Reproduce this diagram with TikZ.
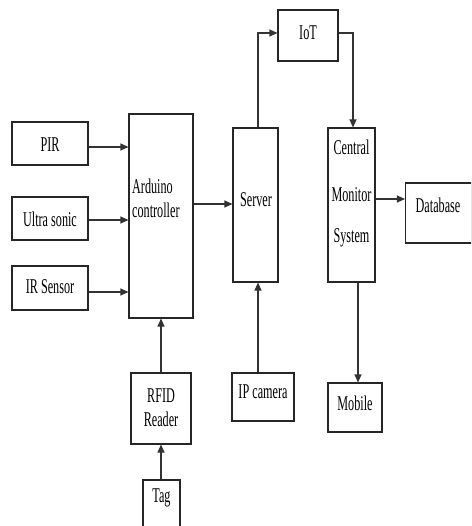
\documentclass[tikz,border=0pt]{standalone}
\usepackage{fontspec}
\setmainfont[FakeStretch=0.58]{Liberation Serif}
\usetikzlibrary{arrows.meta}
\begin{document}
\begin{tikzpicture}[x=1pt,y=-1pt,
  box/.style={draw=black!85,line width=1.1pt,minimum width=#1,inner sep=0pt},
  lbl/.style={font=\fontsize{21}{24}\selectfont,inner sep=0pt},
  arr/.style={draw=black!80,line width=1.1pt,-{Triangle[length=8pt,width=7pt]}}]
\useasboundingbox (0,0) rectangle (471,526);
\clip (0,0) rectangle (471,526);
% boxes
\node[box=76pt,minimum height=43pt] (pir) at (50,143.5) {};
\node[box=76pt,minimum height=43pt] (ultra) at (50,218.5) {};
\node[box=76pt,minimum height=44pt] (ir) at (50,288) {};
\node[box=64pt,minimum height=204pt] (ard) at (161,216) {};
\node[box=45pt,minimum height=154pt] (server) at (255.5,205) {};
\node[box=60pt,minimum height=51pt] (iot) at (308,35.5) {};
\node[box=47pt,minimum height=154pt] (cms) at (351.5,205) {};
\node[box=66pt,minimum height=60pt] (db) at (438.5,213) {};
\node[box=62pt,minimum height=48pt] (ipcam) at (263,397) {};
\node[box=54pt,minimum height=49pt] (mobile) at (355,407.5) {};
\node[box=60pt,minimum height=71pt] (rfid) at (161,408.5) {};
\node[box=37pt,minimum height=50pt] (tag) at (161.5,505) {};
% texts
\node[lbl] (tpir) at (50,145) {PIR};
\node[lbl] (tultra) at (50,219) {Ultra sonic};
\node[lbl] (tir) at (50,287) {IR Sensor};
\node[lbl,anchor=west,align=left] (tard) at (132,198) {Arduino\\controller};
\node[lbl] (tserver) at (256,200) {Server};
\node[lbl] (tiot) at (308,33) {IoT};
\node[lbl] (tcentral) at (351.5,147) {Central};
\node[lbl] (tmonitor) at (351.5,195) {Monitor};
\node[lbl] (tsystem) at (351.5,238) {System};
\node[lbl] (tdb) at (438,205) {Database};
\node[lbl] (tipcam) at (263,392) {IP camera};
\node[lbl] (tmobile) at (355,403) {Mobile};
\node[lbl,align=center] (trfid) at (161,408) {RFID\\Reader};
\node[lbl] (ttag) at (161.5,498) {Tag};
% connectors
\draw[arr] ([yshift=-3.5pt]pir.east) -- ([yshift=-3.5pt]pir.east -| ard.west);
\draw[arr] ([yshift=-1.5pt]ultra.east) -- ([yshift=-1.5pt]ultra.east -| ard.west);
\draw[arr] ([yshift=-4pt]ir.east) -- ([yshift=-4pt]ir.east -| ard.west);
\draw[arr] ([yshift=1pt]server.west -| ard.east) -- ([yshift=1pt]server.west);
\draw[arr] ([xshift=2.5pt]server.north) |- ([yshift=2.5pt]iot.west);
\draw[arr] ([yshift=2.5pt]iot.east) -| ([xshift=1.5pt]cms.north);
\draw[arr] ([yshift=6pt]cms.east) -- ([yshift=6pt]cms.east -| db.west);
\draw[arr] ([xshift=2.5pt]server.south |- ipcam.north) -- ([xshift=2.5pt]server.south);
\draw[arr] ([xshift=3pt]mobile.north |- cms.south) -- ([xshift=3pt]mobile.north);
\draw[arr] (rfid.north) -- (rfid.north |- ard.south);
\draw[arr] (tag.north -| rfid.south) -- (rfid.south);
\end{tikzpicture}
\end{document}
